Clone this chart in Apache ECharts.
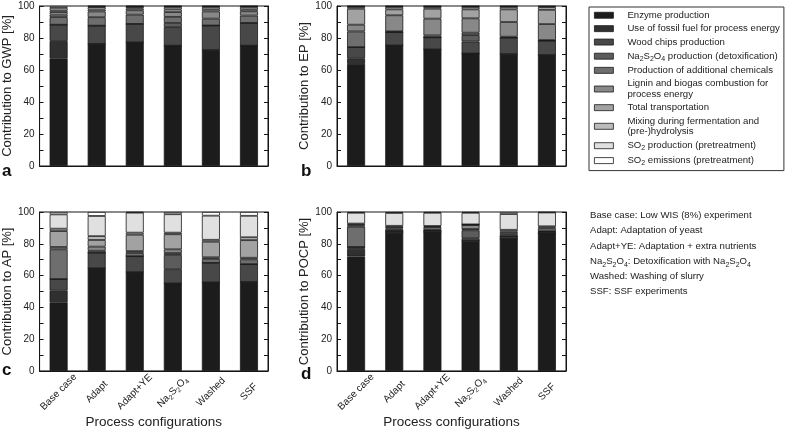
<!DOCTYPE html>
<html><head><meta charset="utf-8">
<script src="https://cdn.jsdelivr.net/npm/echarts@6/dist/echarts.min.js"></script>
<style>html,body{margin:0;padding:0;background:#fff}#c{width:785px;height:430px}</style>
</head><body><div id="c"></div>
<script>
// ---- data ----
const categories = ['Base case', 'Adapt', 'Adapt+YE', 'Na2S2O4', 'Washed', 'SSF'];
const seriesNames = [
  'Enzyme production',
  'Use of fossil fuel for process energy',
  'Wood chips production',
  'Na2S2O4 production (detoxification)',
  'Production of additional chemicals',
  'Lignin and biogas combustion for process energy',
  'Total transportation',
  'Mixing during fermentation and (pre-)hydrolysis',
  'SO2 production (pretreatment)',
  'SO2 emissions (pretreatment)'
];
// rows follow seriesNames (bottom of stack first), columns follow categories
const gwpValues = [
  [67.3, 76.3, 77.3, 75.2, 72.5, 75.2],
  [10.8, 0, 0, 0, 0, 0],
  [10.2, 11.4, 11.5, 11.6, 15.3, 14.2],
  [0, 0, 0, 2.6, 0, 0],
  [4.8, 5.3, 5.8, 3.8, 4.3, 4.6],
  [1.5, 3.6, 2.7, 3.0, 4.5, 2.7],
  [1.6, 1.2, 1.2, 1.7, 1.3, 1.2],
  [1.1, 1.5, 0.9, 1.5, 1.5, 1.5],
  [1.5, 0.5, 0.4, 0.4, 0.4, 0.4],
  [1.2, 0.2, 0.2, 0.2, 0.2, 0.2]
];
const epValues = [
  [63.8, 75.4, 72.9, 70.3, 70.0, 69.4],
  [3.5, 0, 0, 0, 0, 0],
  [7.0, 8.3, 7.5, 7.5, 10.2, 8.9],
  [0, 0, 0, 4.0, 0, 0],
  [9.8, 0.4, 1.2, 1.5, 0.6, 0.4],
  [4.2, 10.1, 10.5, 9.0, 9.2, 10.0],
  [10.0, 3.7, 6.2, 5.6, 7.9, 8.9],
  [1.1, 1.5, 1.1, 1.5, 1.5, 1.6],
  [0.4, 0.4, 0.4, 0.4, 0.4, 0.5],
  [0.2, 0.2, 0.2, 0.2, 0.2, 0.3]
];
const apValues = [
  [43.2, 64.7, 62.2, 55.1, 55.7, 56.0],
  [7.3, 0, 0, 0, 0, 0],
  [7.3, 9.7, 10.0, 8.9, 12.3, 11.2],
  [0, 0, 0, 9.0, 0, 0],
  [18.7, 1.2, 2.0, 1.2, 2.5, 3.0],
  [1.5, 2.6, 1.2, 2.3, 1.0, 1.0],
  [10.0, 4.2, 10.3, 9.5, 9.8, 11.1],
  [1.5, 2.4, 1.3, 1.0, 1.2, 1.8],
  [9.0, 12.7, 12.6, 11.6, 15.2, 13.5],
  [1.5, 2.5, 0.4, 1.4, 2.3, 2.4]
];
const pocpValues = [
  [72.0, 86.8, 87.3, 81.9, 83.2, 86.5],
  [4.8, 0, 0, 0, 0, 0],
  [1.2, 1.2, 1.0, 1.6, 1.4, 1.0],
  [0, 0, 0, 5.0, 0, 0],
  [12.8, 0.8, 0.5, 0.8, 1.0, 0.5],
  [0.8, 0.9, 1.5, 2.5, 1.2, 1.6],
  [0.6, 0.8, 0.4, 0.2, 1.0, 0.6],
  [0.5, 0.8, 0.5, 0.2, 1.0, 0.8],
  [6.8, 8.1, 8.3, 7.3, 9.9, 8.7],
  [0.5, 0.6, 0.5, 0.5, 1.3, 0.3]
];
const yTickValues = [0, 20, 40, 60, 80, 100];
const panelValues = [gwpValues, epValues, apValues, pocpValues];
const panelAxisTitles = ['Contribution to GWP [%]', 'Contribution to EP [%]', 'Contribution to AP [%]', 'Contribution to POCP [%]'];
const panelLetters = ['a', 'b', 'c', 'd'];
const xAxisTitle = 'Process configurations';
const noteLines = [
  'Base case: Low WIS (8%) experiment',
  'Adapt: Adaptation of yeast',
  'Adapt+YE: Adaptation + extra nutrients',
  'Na2S2O4: Detoxification with Na2S2O4',
  'Washed: Washing of slurry',
  'SSF: SSF experiments'
];

// ---- styling ----
const FONT = '"Liberation Sans", Arial, Helvetica, sans-serif';
const seriesColors = ['#1c1c1c', '#303030', '#484848', '#5c5c5c', '#6e6e6e', '#888888', '#a2a2a2', '#bbbbbb', '#e0e0e0', '#ffffff'];
const legendBreaks = {
  'Lignin and biogas combustion for process energy': 'Lignin and biogas combustion for\nprocess energy',
  'Mixing during fermentation and (pre-)hydrolysis': 'Mixing during fermentation and\n(pre-)hydrolysis'
};
function subs(t) {
  return t.replace(/(Na|S|O)(\d)/g, '$1{s|$2}');
}
const grids = [
  { left: 39, top: 6, width: 229, height: 160 },
  { left: 337, top: 6, width: 229, height: 160 },
  { left: 39, top: 212, width: 229, height: 161 },
  { left: 337, top: 212, width: 229, height: 161 }
];
const nameGaps = [21, 22, 22, 22];

const xAxes = [], yAxes = [], series = [];
grids.forEach((g, p) => {
  g.show = true; g.borderColor = '#151515'; g.borderWidth = 1; g.backgroundColor = '#fff';
  const showLab = p >= 2;
  xAxes.push({
    type: 'category', gridIndex: p, data: categories,
    axisTick: { show: false },
    axisLine: { lineStyle: { color: '#151515', width: 1 } },
    axisLabel: {
      show: showLab, rotate: 45, fontSize: 10, fontFamily: FONT, color: '#222', margin: 21,
      align: 'center', verticalAlign: 'middle',
      interval: 0,
      formatter: v => subs(v),
      rich: { s: { fontSize: 7, fontFamily: FONT, color: '#222', padding: [6, 0, 0, 0] } }
    },
    name: showLab ? xAxisTitle : '',
    nameLocation: 'middle', nameGap: 40,
    nameTextStyle: { fontSize: 13.5, fontFamily: FONT, color: '#222' }
  });
  const common = {
    type: 'value', gridIndex: p, min: 0, max: 100, interval: 20, splitNumber: 5,
    splitLine: { show: false },
    axisLine: { show: true, lineStyle: { color: '#151515', width: 1 } },
    axisTick: { show: true, inside: true, length: 4, lineStyle: { color: '#151515' } },
    minorTick: { show: true, splitNumber: 2, length: 4, lineStyle: { color: '#151515' } }
  };
  yAxes.push(Object.assign({}, common, {
    position: 'left',
    axisLabel: {
      fontSize: 10, fontFamily: FONT, color: '#222', margin: 5,
      formatter: v => (yTickValues.indexOf(v) >= 0 ? String(v) : '')
    },
    name: panelAxisTitles[p], nameLocation: 'middle', nameGap: nameGaps[p], nameRotate: 90,
    nameTextStyle: { fontSize: 13, fontFamily: FONT, color: '#222' }
  }));
  yAxes.push(Object.assign({}, common, { position: 'right', axisLabel: { show: false } }));
  panelValues[p].forEach((vals, k) => {
    series.push({
      type: 'bar', name: seriesNames[k], stack: 'panel' + p,
      xAxisIndex: p, yAxisIndex: 2 * p, data: vals, barWidth: 18,
      itemStyle: { color: seriesColors[k], borderColor: '#1a1a1a', borderWidth: 0.8 },
      emphasis: { disabled: true }, silent: true
    });
  });
});

const graphics = [];
const letterTops = [[2, 163], [301, 163], [2, 362], [301, 366]];
panelLetters.forEach((l, i) => {
  graphics.push({
    type: 'text', left: letterTops[i][0], top: letterTops[i][1],
    style: { text: l, font: 'bold 17px ' + FONT, fill: '#111' }
  });
});
graphics.push({
  type: 'text', left: 590, top: 208,
  style: {
    text: noteLines.map(subs).join('\n'),
    fontSize: 9.6, fontFamily: FONT, fill: '#222', lineHeight: 15.2,
    rich: { s: { fontSize: 7, fontFamily: FONT, fill: '#222', padding: [7, 0, 0, 0], lineHeight: 15.2 } }
  }
});

const chart = echarts.init(document.getElementById('c'), null, { renderer: 'canvas' });
chart.setOption({
  animation: false,
  backgroundColor: '#fff',
  grid: grids,
  xAxis: xAxes,
  yAxis: yAxes,
  series: series,
  legend: {
    data: seriesNames,
    orient: 'vertical', left: 589, top: 7,
    padding: [3, 4, 4, 5],
    itemGap: 2.9, itemWidth: 19, itemHeight: 6, icon: 'rect',
    itemStyle: { borderWidth: 0.8, borderColor: '#1a1a1a' },
    borderColor: '#333', borderWidth: 1,
    selectedMode: false,
    formatter: n => subs(legendBreaks[n] || n),
    textStyle: {
      fontSize: 9.6, fontFamily: FONT, color: '#222', lineHeight: 10.5, padding: [0, 0, 0, 9],
      rich: { s: { fontSize: 7, fontFamily: FONT, color: '#222', padding: [5, 0, 0, 0], lineHeight: 10.5 } }
    }
  },
  graphic: graphics
});
</script></body></html>
